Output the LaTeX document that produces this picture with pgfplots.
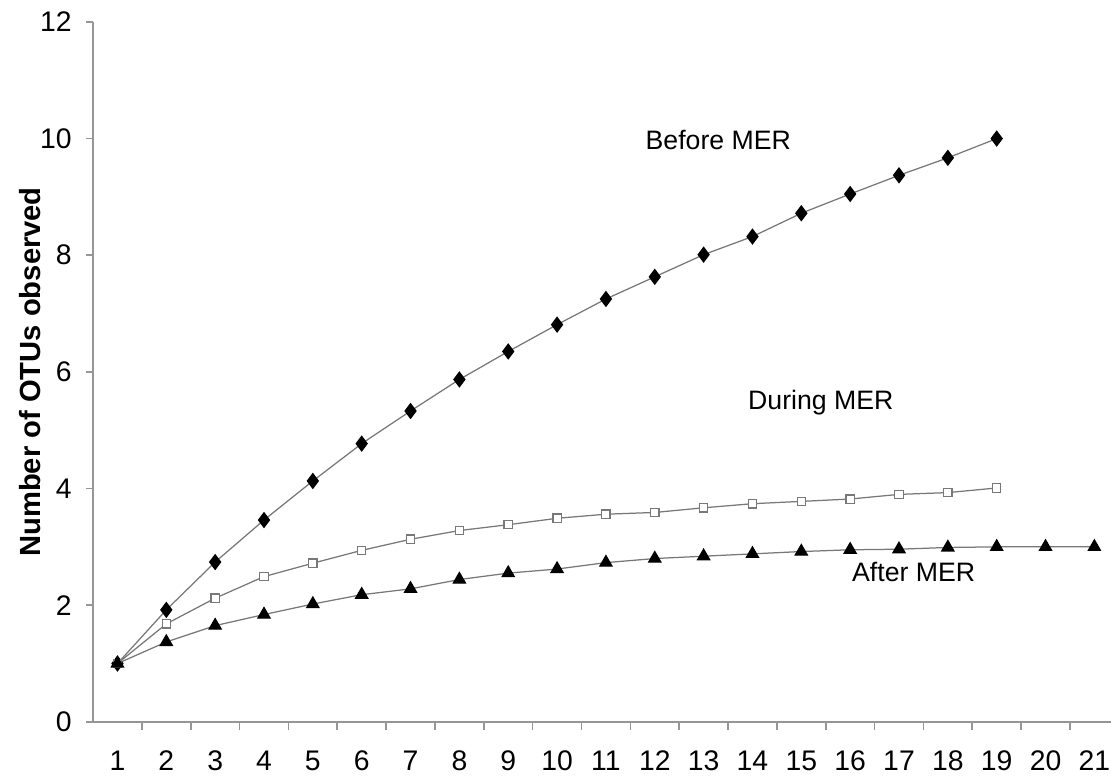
\documentclass[border=0pt]{standalone}
\usepackage{pgfplots}
\pgfplotsset{compat=1.18}
\usepackage{fontspec}
\setmainfont{Liberation Sans}
\definecolor{axgray}{RGB}{150,150,150}
\definecolor{lngray}{RGB}{120,120,120}
\begin{document}
\begin{tikzpicture}
\begin{axis}[
  scale only axis, width=366.5pt, height=252pt,
  xmin=0.5, xmax=21.34, ymin=0, ymax=12,
  axis x line*=bottom, axis y line*=left,
  axis line style={axgray, line width=0.6pt, -},
  xtick={1,...,21}, ytick={0,2,...,12},
  minor xtick={1.5,2.5,...,20.5},
  major x tick style={draw=none},
  minor x tick style={axgray, line width=0.6pt},
  y tick style={axgray, line width=0.6pt},
  tick align=outside,
  major tick length=2.5pt, minor tick length=3pt,
  tick label style={font=\fontsize{10.2}{12}\selectfont, inner sep=0pt},
  xticklabel style={yshift=-7.8pt},
  yticklabel style={xshift=-5pt},
  /pgf/number format/assume math mode=true,
  ylabel={\bfseries Number of OTUs observed},
  ylabel style={font=\fontsize{10.5}{12}\selectfont, at={(axis description cs:-0.062,0.5)}, anchor=center},
  clip=false,
]
\addplot[lngray, line width=0.45pt, mark=diamond*, mark size=2.6pt, mark options={black, fill=black}] coordinates {
(1,1.00) (2,1.92) (3,2.74) (4,3.46) (5,4.13) (6,4.77) (7,5.33) (8,5.87) (9,6.35) (10,6.81)
(11,7.25) (12,7.63) (13,8.01) (14,8.32) (15,8.72) (16,9.05) (17,9.37) (18,9.67) (19,10.00)};
\addplot[lngray, line width=0.45pt, mark=square*, mark size=1.5pt, mark options={lngray, fill=white, line width=0.45pt}] coordinates {
(1,1.00) (2,1.68) (3,2.12) (4,2.49) (5,2.72) (6,2.94) (7,3.13) (8,3.28) (9,3.38) (10,3.49)
(11,3.56) (12,3.59) (13,3.67) (14,3.74) (15,3.78) (16,3.82) (17,3.90) (18,3.93) (19,4.01)};
\addplot[lngray, line width=0.45pt, mark=triangle*, mark size=2.5pt, mark options={black, fill=black}] coordinates {
(1,1.00) (2,1.37) (3,1.65) (4,1.84) (5,2.02) (6,2.18) (7,2.28) (8,2.44) (9,2.55) (10,2.62)
(11,2.73) (12,2.80) (13,2.84) (14,2.88) (15,2.92) (16,2.95) (17,2.96) (18,2.99) (19,3.00) (20,3.00) (21,3.00)};
\node[font=\fontsize{9.6}{11}\selectfont] at (axis cs:13.3,9.98) {Before MER};
\node[font=\fontsize{9.6}{11}\selectfont] at (axis cs:15.4,5.47) {During MER};
\node[font=\fontsize{9.6}{11}\selectfont] at (axis cs:17.3,2.57) {After MER};
\end{axis}
\pgfresetboundingbox
\path[use as bounding box] (-33.5pt,-20pt) rectangle (366.5pt,259.9pt);
\end{tikzpicture}
\end{document}
